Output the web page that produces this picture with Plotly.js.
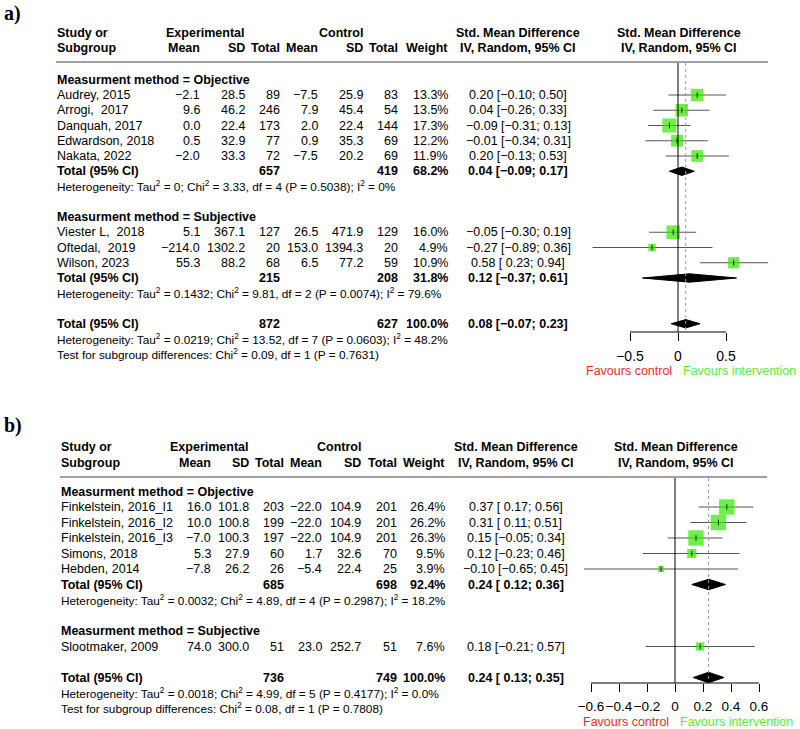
<!DOCTYPE html>
<html><head><meta charset="utf-8">
<script src="https://cdn.plot.ly/plotly-3.0.1.min.js"></script>
<style>html,body{margin:0;padding:0;background:#fff}</style>
</head><body><div id="chart" style="width:800px;height:729px"></div>
<script>
// ---------- Panel a data ----------
const a_study = ["Audrey, 2015","Arrogi,\u00a0 2017","Danquah, 2017","Edwardson, 2018","Nakata, 2022","Viester L,\u00a0 2018","Oftedal,\u00a0 2019","Wilson, 2023"];
const a_group = [0,0,0,0,0,1,1,1];
const a_em  = [-2.1, 9.6, 0.0, 0.5, -2.0, 5.1, -214.0, 55.3];
const a_esd = [28.5, 46.2, 22.4, 32.9, 33.3, 367.1, 1302.2, 88.2];
const a_en  = [89, 246, 173, 77, 72, 127, 20, 68];
const a_cm  = [-7.5, 7.9, 2.0, 0.9, -7.5, 26.5, 153.0, 6.5];
const a_csd = [25.9, 45.4, 22.4, 35.3, 20.2, 471.9, 1394.3, 77.2];
const a_cn  = [83, 54, 144, 69, 69, 129, 20, 59];
const a_w   = [13.3, 13.5, 17.3, 12.2, 11.9, 16.0, 4.9, 10.9];
const a_smd = [0.20, 0.04, -0.09, -0.01, 0.20, -0.05, -0.27, 0.58];
const a_lo  = [-0.10, -0.26, -0.31, -0.34, -0.13, -0.30, -0.89, 0.23];
const a_hi  = [0.50, 0.33, 0.13, 0.31, 0.53, 0.19, 0.36, 0.94];
const a_subName = ["Objective", "Subjective"];
const a_subEN = [657, 215];
const a_subCN = [419, 208];
const a_subW  = [68.2, 31.8];
const a_subSMD = [0.04, 0.12];
const a_subLo  = [-0.09, -0.37];
const a_subHi  = [0.17, 0.61];
const a_subTau = ["0", "0.1432"];
const a_subChi = [3.33, 9.81];
const a_subDf  = [4, 2];
const a_subP   = [0.5038, 0.0074];
const a_subI2  = ["0%", "79.6%"];
const a_tot = {en: 872, cn: 627, w: 100.0, smd: 0.08, lo: -0.07, hi: 0.23, tau: "0.0219", chi: 13.52, df: 7, p: 0.0603, i2: "48.2%", tchi: 0.09, tdf: 1, tp: 0.7631};
const a_ticks = [-0.5, 0, 0.5];

// ---------- Panel b data ----------
const b_study = ["Finkelstein, 2016_I1","Finkelstein, 2016_I2","Finkelstein, 2016_I3","Simons, 2018","Hebden, 2014","Slootmaker, 2009"];
const b_group = [0,0,0,0,0,1];
const b_em  = [16.0, 10.0, -7.0, 5.3, -7.8, 74.0];
const b_esd = [101.8, 100.8, 100.3, 27.9, 26.2, 300.0];
const b_en  = [203, 199, 197, 60, 26, 51];
const b_cm  = [-22.0, -22.0, -22.0, 1.7, -5.4, 23.0];
const b_csd = [104.9, 104.9, 104.9, 32.6, 22.4, 252.7];
const b_cn  = [201, 201, 201, 70, 25, 51];
const b_w   = [26.4, 26.2, 26.3, 9.5, 3.9, 7.6];
const b_smd = [0.37, 0.31, 0.15, 0.12, -0.10, 0.18];
const b_lo  = [0.17, 0.11, -0.05, -0.23, -0.65, -0.21];
const b_hi  = [0.56, 0.51, 0.34, 0.46, 0.45, 0.57];
const b_subName = ["Objective", "Subjective"];
const b_subEN = [685, null];
const b_subCN = [698, null];
const b_subW  = [92.4, null];
const b_subSMD = [0.24, null];
const b_subLo  = [0.12, null];
const b_subHi  = [0.36, null];
const b_subTau = ["0.0032", null];
const b_subChi = [4.89, null];
const b_subDf  = [4, null];
const b_subP   = [0.2987, null];
const b_subI2  = ["18.2%", null];
const b_tot = {en: 736, cn: 749, w: 100.0, smd: 0.24, lo: 0.13, hi: 0.35, tau: "0.0018", chi: 4.99, df: 5, p: 0.4177, i2: "0.0%", tchi: 0.08, tdf: 1, tp: 0.7808};
const b_ticks = [-0.6, -0.4, -0.2, 0, 0.2, 0.4, 0.6];

// ---------- helpers ----------
const FONT = "Liberation Sans, Arial, Helvetica, sans-serif";
const SQ = "#33e800", RED = "#ee2a2a", GRN = "#55ee33", CIC = "#555555";
const minus = s => s.replace(/-/g, "\u2212");
const f1 = v => minus(v.toFixed(1));
const f2 = v => minus(v.toFixed(2));
const fci = (e, l, h) => f2(e) + " [" + (l >= 0 ? "\u00a0" : "") + f2(l) + "; " + f2(h) + "]";
const fTick = v => v === 0 ? "0" : minus(v.toFixed(1));
const het = (tau, chi, df, p, i2) => "Heterogeneity: Tau<sup>2</sup> = " + tau + "; Chi<sup>2</sup> = " + chi.toFixed(2) + ", df = " + df + " (P = " + p.toFixed(4) + "); I<sup>2</sup> = " + i2;

const annotations = [], shapes = [], traces = [];
function T(px, py, text, anchor, opt) {
  opt = opt || {};
  annotations.push({xref: "paper", yref: "y", x: px / 800, y: py, text: opt.bold ? "<b>" + text + "</b>" : text,
    xanchor: anchor, yanchor: "middle", showarrow: false, borderpad: 0,
    font: {family: opt.family || FONT, size: opt.size || 12.5, color: opt.color || "#000"}});
}

function panel(cfg) {
  const c = cfg.cols, xa = cfg.xaxis, y0 = cfg.firstRow, dy = cfg.rowH;
  const Y = k => y0 + k * dy;
  const HS = 11.8;
  T(3, cfg.labelY, cfg.label, "left", {bold: true, family: "Liberation Serif, Times New Roman, serif", size: 20});
  // headers
  T(c.name, cfg.h1, "Study or", "left", {bold: true});
  T(c.name, cfg.h2, "Subgroup", "left", {bold: true});
  T(c.esd, cfg.h1, "Experimental", "right", {bold: true});
  T(c.csd, cfg.h1, "Control", "right", {bold: true});
  T(c.em, cfg.h2, "Mean", "right", {bold: true});
  T(c.esd, cfg.h2, "SD", "right", {bold: true});
  T(c.en, cfg.h2, "Total", "right", {bold: true});
  T(c.cm, cfg.h2, "Mean", "right", {bold: true});
  T(c.csd, cfg.h2, "SD", "right", {bold: true});
  T(c.cn, cfg.h2, "Total", "right", {bold: true});
  T(c.w, cfg.h2, "Weight", "right", {bold: true});
  T(c.ci, cfg.h1, "Std. Mean Difference", "center", {bold: true});
  T(c.ci, cfg.h2, "IV, Random, 95% CI", "center", {bold: true});
  T(c.fp, cfg.h1, "Std. Mean Difference", "center", {bold: true});
  T(c.fp, cfg.h2, "IV, Random, 95% CI", "center", {bold: true});
  shapes.push({type: "line", xref: "paper", yref: "y", x0: c.name / 800, x1: cfg.lineRight / 800, y0: cfg.hline, y1: cfg.hline, line: {color: "#444", width: 1.2}});

  const d = cfg.data;
  let k = 0;
  const sx = [], sy = [], ss = [], lx = [], ly = [];
  for (let g = 0; g < 2; g++) {
    T(c.name, Y(k - 1), "Measurment method = " + d.subName[g], "left", {bold: true});
    for (let i = 0; i < d.study.length; i++) {
      if (d.group[i] !== g) continue;
      const y = Y(k);
      T(c.name, y, d.study[i], "left");
      T(c.em, y, f1(d.em[i]), "right");
      T(c.esd, y, d.esd[i].toFixed(1), "right");
      T(c.en, y, String(d.en[i]), "right");
      T(c.cm, y, f1(d.cm[i]), "right");
      T(c.csd, y, d.csd[i].toFixed(1), "right");
      T(c.cn, y, String(d.cn[i]), "right");
      T(c.w, y, d.w[i].toFixed(1) + "%", "right");
      T(c.ci, y, fci(d.smd[i], d.lo[i], d.hi[i]), "center");
      sx.push(d.smd[i]); sy.push(y); ss.push(cfg.sqK * Math.sqrt(d.w[i]));
      lx.push(d.lo[i], d.hi[i], null); ly.push(y, y, null);
      k++;
    }
    if (d.subEN[g] !== null) {
      const y = Y(k);
      T(c.name, y, "Total (95% CI)", "left", {bold: true});
      T(c.en, y, String(d.subEN[g]), "right", {bold: true});
      T(c.cn, y, String(d.subCN[g]), "right", {bold: true});
      T(c.w, y, d.subW[g].toFixed(1) + "%", "right", {bold: true});
      T(c.ci, y, fci(d.subSMD[g], d.subLo[g], d.subHi[g]), "center", {bold: true});
      diamond(xa, d.subSMD[g], d.subLo[g], d.subHi[g], y, cfg.dh);
      k++;
      T(c.name, Y(k), het(d.subTau[g], d.subChi[g], d.subDf[g], d.subP[g], d.subI2[g]), "left", {size: HS});
      k++;
    }
    k += 2; // blank + next header
  }
  k -= 1;
  const t = d.tot;
  let y = Y(k);
  T(c.name, y, "Total (95% CI)", "left", {bold: true});
  T(c.en, y, String(t.en), "right", {bold: true});
  T(c.cn, y, String(t.cn), "right", {bold: true});
  T(c.w, y, t.w.toFixed(1) + "%", "right", {bold: true});
  T(c.ci, y, fci(t.smd, t.lo, t.hi), "center", {bold: true});
  diamond(xa, t.smd, t.lo, t.hi, y, cfg.dh);
  T(c.name, Y(k + 1), het(t.tau, t.chi, t.df, t.p, t.i2), "left", {size: HS});
  T(c.name, Y(k + 2), "Test for subgroup differences: Chi<sup>2</sup> = " + t.tchi.toFixed(2) + ", df = " + t.tdf + " (P = " + t.tp.toFixed(4) + ")", "left", {size: HS});

  // reference lines
  shapes.push({type: "line", xref: xa, yref: "y", x0: 0, x1: 0, y0: cfg.hline + 1, y1: cfg.axisY, line: {color: "#000", width: 1}});
  shapes.push({type: "line", xref: xa, yref: "y", x0: t.smd, x1: t.smd, y0: cfg.hline + 1, y1: cfg.axisY, line: {color: "#999", width: 1, dash: "dot"}});
  shapes.push({type: "line", xref: xa, yref: "y", x0: cfg.ticks[0], x1: cfg.ticks[cfg.ticks.length - 1], y0: cfg.axisY, y1: cfg.axisY, line: {color: "#000", width: 1}});

  // CIs, squares, centre ticks
  traces.push({type: "scatter", mode: "lines", x: lx, y: ly, xaxis: xa, yaxis: "y", line: {color: CIC, width: 1}, hoverinfo: "skip"});
  traces.push({type: "scatter", mode: "markers", x: sx, y: sy, xaxis: xa, yaxis: "y", marker: {symbol: "square", size: ss, color: SQ, line: {width: 0}}, hoverinfo: "skip"});
  traces.push({type: "scatter", mode: "markers", x: sx, y: sy, xaxis: xa, yaxis: "y", marker: {symbol: "line-ns-open", size: 4, color: "#000", line: {width: 0.8, color: "#000"}}, hoverinfo: "skip"});

  // favours labels
  T(cfg.zeroPx - 5, cfg.favY, "Favours control", "right", {color: RED});
  T(cfg.zeroPx + 4, cfg.favY, "Favours intervention", "left", {color: GRN});
}

function diamond(xa, e, l, h, y, dh) {
  traces.push({type: "scatter", mode: "lines", x: [l, e, h, e, l], y: [y, y - dh, y, y + dh, y], xaxis: xa, yaxis: "y",
    fill: "toself", fillcolor: "#000", line: {color: "#000", width: 1}, hoverinfo: "skip"});
}

// ---------- build ----------
const A_ZERO = 678, A_PXU = 96, A_AXIS = 332;
const B_ZERO = 675, B_PXU = 140, B_AXIS = 683;

panel({label: "a)", labelY: 13, h1: 33, h2: 48, hline: 62, lineRight: 768, firstRow: 95, rowH: 15.25,
  cols: {name: 56, em: 201, esd: 246, en: 281, cm: 319, csd: 364, cn: 399, w: 449, ci: 518, fp: 678.5},
  xaxis: "x", sqK: 3.4, dh: 4.2, axisY: A_AXIS, ticks: a_ticks, zeroPx: A_ZERO, favY: 371,
  data: {study: a_study, group: a_group, em: a_em, esd: a_esd, en: a_en, cm: a_cm, csd: a_csd, cn: a_cn, w: a_w, smd: a_smd, lo: a_lo, hi: a_hi,
    subName: a_subName, subEN: a_subEN, subCN: a_subCN, subW: a_subW, subSMD: a_subSMD, subLo: a_subLo, subHi: a_subHi,
    subTau: a_subTau, subChi: a_subChi, subDf: a_subDf, subP: a_subP, subI2: a_subI2, tot: a_tot}});

panel({label: "b)", labelY: 425, h1: 447, h2: 463, hline: 477, lineRight: 767, firstRow: 507, rowH: 15.5,
  cols: {name: 60, em: 212, esd: 250, en: 285, cm: 323, csd: 362, cn: 398, w: 446, ci: 515.5, fp: 675.5},
  xaxis: "x2", sqK: 3.0, dh: 5.2, axisY: B_AXIS, ticks: b_ticks, zeroPx: B_ZERO, favY: 722,
  data: {study: b_study, group: b_group, em: b_em, esd: b_esd, en: b_en, cm: b_cm, csd: b_csd, cn: b_cn, w: b_w, smd: b_smd, lo: b_lo, hi: b_hi,
    subName: b_subName, subEN: b_subEN, subCN: b_subCN, subW: b_subW, subSMD: b_subSMD, subLo: b_subLo, subHi: b_subHi,
    subTau: b_subTau, subChi: b_subChi, subDf: b_subDf, subP: b_subP, subI2: b_subI2, tot: b_tot}});

const axisCommon = {showgrid: false, zeroline: false, showline: false, ticks: "outside", ticklen: 8, tickwidth: 1, tickcolor: "#000",
  tickangle: 0, fixedrange: true, anchor: "free", domain: [0, 1]};

const layout = {
  width: 800, height: 729, margin: {l: 0, r: 0, t: 0, b: 0}, showlegend: false,
  paper_bgcolor: "#fff", plot_bgcolor: "rgba(0,0,0,0)",
  xaxis: Object.assign({}, axisCommon, {range: [-A_ZERO / A_PXU, (800 - A_ZERO) / A_PXU],
    tickfont: {family: FONT, size: 14, color: "#000"},
    position: 1 - A_AXIS / 729, tickvals: a_ticks, ticktext: a_ticks.map(fTick), ticklabelstandoff: 3}),
  xaxis2: Object.assign({}, axisCommon, {range: [-B_ZERO / B_PXU, (800 - B_ZERO) / B_PXU],
    tickfont: {family: FONT, size: 13.5, color: "#000"},
    position: 1 - B_AXIS / 729, tickvals: b_ticks, ticktext: b_ticks.map(fTick), ticklabelstandoff: 3}),
  yaxis: {domain: [0, 1], range: [729, 0], visible: false, fixedrange: true},
  annotations: annotations, shapes: shapes
};

Plotly.newPlot("chart", traces, layout, {displayModeBar: false, staticPlot: true});
</script></body></html>
